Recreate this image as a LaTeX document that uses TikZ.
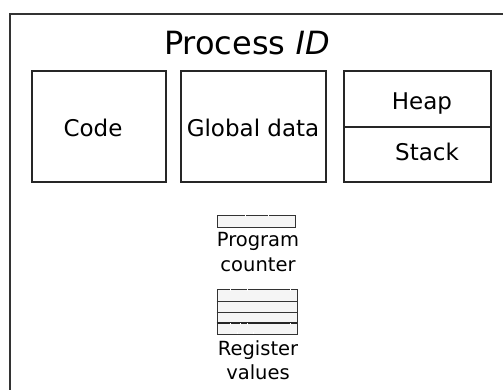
\documentclass[tikz,border=0pt]{standalone}
\usepackage{fontspec}
\setmainfont{DejaVu Sans}
\usetikzlibrary{shadows}
\tikzset{
  seg/.style={draw=black!85, line width=1.1pt, fill=white, drop shadow={shadow xshift=1.2pt, shadow yshift=-1.2pt, opacity=0.25}},
  lbl/.style={inner sep=0pt, font=\fontsize{23}{26}\selectfont, text=black},
  small/.style={inner sep=0pt, align=center, font=\fontsize{19.5}{24}\selectfont, text=black},
  reg/.style={draw=black!80, line width=0.9pt, fill=gray!8},
  tick/.style={draw=white, line width=0.8pt}
}
\begin{document}
\begin{tikzpicture}[x=1pt,y=-1pt]
\useasboundingbox (0,0) rectangle (503,390);
\fill[white] (0,0) rectangle (503,390);
\begin{scope}
\clip (0,0) rectangle (503,390);
\draw[line width=1.3pt, black!80] (10,14) rectangle (520,410);
\end{scope}
\node[inner sep=0pt, anchor=base, font=\fontsize{32}{36}\selectfont, text=black] (title) at (247,55) {Process \textit{ID}};
% segments
\node[seg, minimum width=134pt, minimum height=111pt, inner sep=0pt] (code) at (99,126.5) {};
\node[seg, minimum width=145pt, minimum height=111pt, inner sep=0pt] (glob) at (253.5,126.5) {};
\node[seg, minimum width=147pt, minimum height=111pt, inner sep=0pt] (hs) at (417.5,126.5) {};
\draw[line width=1.1pt, black!85] (hs.west |- 0,127) coordinate (dl) -- (hs.east |- 0,127) coordinate (dr);
\node[lbl, anchor=base] (codet) at (93,137) {Code};
\node[lbl, anchor=base] (globt) at (253,137) {Global data};
\node[lbl, anchor=base] (heapt) at (422,110) {Heap};
\node[lbl, anchor=base] (stackt) at (427,161) {Stack};
% program counter
\node[reg, minimum width=78pt, minimum height=12pt, inner sep=0pt] (pc) at (256,221) {};
\draw[tick] (245,215) -- (245,217);
\draw[tick] (268,215) -- (268,217);
\node[small, anchor=base] (pct) at (258,246) {Program};
\node[small, anchor=base] (pct2) at (258,271) {counter};
% register values
\node[reg, minimum width=80pt, minimum height=45pt, inner sep=0pt] (rv) at (257,311.5) {};
\draw[line width=0.9pt, black!80] (rv.west |- 0,301) -- (rv.east |- 0,301);
\draw[line width=0.9pt, black!80] (rv.west |- 0,312) -- (rv.east |- 0,312);
\draw[line width=1.3pt, black!85] (rv.west |- 0,323) -- (rv.east |- 0,323);
\foreach \x in {230,247,290} \draw[tick] (\x,289) -- (\x,291);
\foreach \x in {230,240,247,290} \draw[tick] (\x,323) -- (\x,325);
\foreach \x in {237,253} \draw[tick] (\x,332) -- (\x,334);
\node[small, anchor=base] (rvt) at (258,355) {Register};
\node[small, anchor=base] (rvt2) at (258,379) {values};
\end{tikzpicture}
\end{document}
